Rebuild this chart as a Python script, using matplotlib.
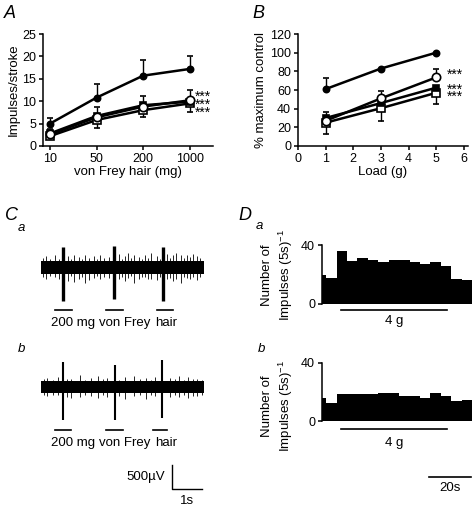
"""Four-panel figure: von Frey responses (A), load responses (B), raw traces (C), PSTHs (D)."""
import numpy as np
import matplotlib
matplotlib.use("Agg")
import matplotlib.pyplot as plt

plt.rcParams["font.family"] = ["Liberation Sans", "DejaVu Sans"]
plt.rcParams["mathtext.fontset"] = "custom"
plt.rcParams["mathtext.rm"] = "Liberation Sans"

W, H = 472, 509

# ---- panel A: impulses per stroke vs von Frey hair
vf_labels = ["10", "50", "200", "1000"]
a_ctrl = [5.0, 10.8, 15.7, 17.2]
a_ctrl_up = [1.2, 3.0, 3.5, 3.0]
a_ocirc = [2.6, 6.4, 8.8, 10.2]
a_ocirc_up = [1.1, 2.3, 2.4, 2.3]
a_fsq = [2.8, 6.7, 9.1, 9.9]
a_osq = [2.2, 5.8, 8.0, 9.5]
a_osq_dn = [0.7, 1.8, 1.6, 1.8]
a_star_y = 9.2          # centre of the three-row "***" block

# ---- panel B: % maximum control vs load
load_g = [1, 3, 5]
b_ctrl = [61, 83, 100]
b_ctrl_up = [12, 0, 0]
b_ocirc = [27, 51, 73.5]
b_ocirc_up = [9, 7.5, 8.5]
b_fsq = [30, 46, 62.5]
b_osq = [25, 40.5, 57]
b_osq_dn = [12.5, 14, 12]
b_star_y = 64.3         # centre of the star block (one gap row)

# ---- panel C: extracellular traces (uV, s)
ca_band = (-140, 125)
ca_spike_t = [0.73, 2.43, 4.07]
ca_spike_hi = [420, 440, 425]
ca_spike_lo = [-710, -670, -710]
ca_small_t = [0.05, 0.15, 0.3, 0.45, 0.6, 0.9, 1.0, 1.1, 1.25, 1.35, 1.45, 1.6, 1.75, 1.85,
              1.95, 2.1, 2.25, 2.6, 2.7, 2.8, 2.9, 3.0, 3.1, 3.25, 3.35, 3.45, 3.55, 3.65,
              3.85, 3.95, 4.2, 4.3, 4.4, 4.5, 4.65, 4.75, 4.85, 4.95, 5.05, 5.2, 5.3]
ca_small_hi = [180, 230, 170, 250, 160, 220, 170, 260, 210, 175, 240, 190, 230, 165,
               250, 180, 200, 270, 170, 220, 300, 180, 240, 210, 170, 260, 185, 290,
               230, 170, 280, 190, 250, 300, 260, 180, 240, 200, 270, 220, 180]
ca_small_lo = [-200, -260, -180, -200, -240, -300, -190, -320, -250, -200, -340, -280, -220, -190,
               -260, -210, -230, -240, -200, -300, -220, -190, -330, -260, -200, -210, -240, -250,
               -280, -200, -260, -220, -300, -240, -330, -200, -220, -260, -210, -280, -200]
cb_band = (-115, 115)
cb_spike_t = [0.73, 2.47, 4.03]
cb_spike_hi = [520, 450, 555]
cb_spike_lo = [-695, -695, -650]
cb_small_t = [0.1, 0.2, 0.4, 0.55, 0.85, 1.0, 1.3, 1.45, 1.65, 1.9, 2.05, 2.2, 2.6, 2.8, 3.1,
              3.3, 3.5, 3.65, 3.8, 4.3, 4.45, 4.6, 4.75, 4.9, 5.05, 5.2, 5.35]
cb_small_hi = [160, 180, 150, 200, 160, 170, 240, 150, 190, 220, 160, 180, 150, 200, 230,
               160, 190, 150, 210, 180, 160, 220, 150, 200, 170, 160, 150]
cb_small_lo = [-170, -190, -160, -170, -200, -230, -200, -160, -180, -220, -170, -200, -190, -260, -190,
               -170, -240, -160, -180, -210, -170, -200, -160, -230, -180, -190, -160]
stim_a = [(0.47, 1.03), (2.17, 2.73), (3.87, 4.40)]
stim_b = [(0.47, 1.00), (2.17, 2.73), (3.73, 4.20)]

# ---- panel D: impulses per 5 s bin
bin_edges = [0, 2, 7, 12, 17, 22, 27, 32, 37, 42, 47, 52, 57, 62, 67, 72]
da_counts = [20, 17.8, 36, 29.7, 31.5, 30.4, 28.5, 30.4, 30.4, 28.8, 27.4, 28.5, 26.3, 17.1, 16.2]
db_counts = [15.8, 12.3, 18.2, 18.2, 18.2, 18.2, 19.3, 19.3, 17, 17, 15.9, 19.3, 17, 13.6, 14.7]
load_on = (9, 60)

fig = plt.figure(figsize=(W / 100, H / 100), dpi=100)


def px_axes(x0, y0, x1, y1):
    return fig.add_axes([x0 / W, 1 - y1 / H, (x1 - x0) / W, (y1 - y0) / H])


def ftext(x, y, s, **kw):
    fig.text(x / W, 1 - y / H, s, **kw)


def style(ax):
    for s in ("top", "right"):
        ax.spines[s].set_visible(False)
    for s in ("left", "bottom"):
        ax.spines[s].set_linewidth(1.1)
    ax.tick_params(direction="out", length=3, width=1.1, pad=2, labelsize=9)


def series(ax, x, y, err, mk, fc, ms):
    ax.errorbar(x, y, yerr=err, color="k", lw=1.8, marker=mk, mfc=fc, mec="k",
                ms=ms, mew=1.2, capsize=2.5, elinewidth=1, capthick=1)


# A
ax = px_axes(43, 34, 213, 146)
style(ax)
xa = np.arange(len(vf_labels))
series(ax, xa, a_osq, [a_osq_dn, [0] * 4], "s", "white", 5.5)
series(ax, xa, a_fsq, None, "s", "black", 5)
series(ax, xa, a_ocirc, [[0] * 4, a_ocirc_up], "o", "white", 6)
series(ax, xa, a_ctrl, [[0] * 4, a_ctrl_up], "o", "black", 4.5)
ax.text(3.12, a_star_y, "***\n***\n***", fontsize=10, va="center", ha="left",
        linespacing=0.43)
ax.set_xlim(-0.15, 3.5)
ax.set_ylim(0, 25)
ax.set_yticks([0, 5, 10, 15, 20, 25])
ax.set_xticks(xa)
ax.set_xticklabels(vf_labels)
ax.set_xlabel("von Frey hair (mg)", fontsize=9.5, labelpad=1)
ax.set_ylabel("Impulses/stroke", fontsize=9.5, labelpad=2)

# B
ax = px_axes(298, 34, 468, 146)
style(ax)
series(ax, load_g, b_osq, [b_osq_dn, [0] * 3], "s", "white", 5.5)
series(ax, load_g, b_fsq, None, "s", "black", 5)
series(ax, load_g, b_ocirc, [[0] * 3, b_ocirc_up], "o", "white", 6)
series(ax, load_g, b_ctrl, [[0] * 3, b_ctrl_up], "o", "black", 4.5)
ax.text(5.4, b_star_y, "***\n\n***\n***", fontsize=10, va="center", ha="left",
        linespacing=0.38)
ax.set_xlim(0, 6.15)
ax.set_ylim(0, 120)
ax.set_xticks(range(7))
ax.set_yticks(range(0, 121, 20))
ax.set_xlabel("Load (g)", fontsize=9.5, labelpad=1)
ax.set_ylabel("% maximum control", fontsize=9.5, labelpad=2)

# C traces
UV_PX = 500 / 24
T_END = 163 / 30


def trace(yc, band, sp_t, sp_hi, sp_lo, sm_t, sm_hi, sm_lo, stim, sp_lw):
    top, bot = 750, -1500
    ax = px_axes(41, yc - top / UV_PX, 204, yc - bot / UV_PX)
    ax.axis("off")
    ax.set_xlim(0, T_END)
    ax.set_ylim(bot, top)
    ax.fill_between([0, T_END], band[0], band[1], color="k", lw=0)
    ax.vlines(sm_t, sm_lo, sm_hi, color="k", lw=0.6)
    ax.vlines(sp_t, sp_lo, sp_hi, color="k", lw=sp_lw)
    for t0, t1 in stim:
        ax.plot([t0, t1], [-896, -896], color="k", lw=1.2)
    for x, s in [(0.33, "200 mg"), (1.93, "von Frey"), (3.8, "hair")]:
        ax.text(x, -1167, s, fontsize=9.5, ha="left", va="center")
    return ax


trace(267, ca_band, ca_spike_t, ca_spike_hi, ca_spike_lo,
      ca_small_t, ca_small_hi, ca_small_lo, stim_a, 2.4)
axb = trace(387, cb_band, cb_spike_t, cb_spike_hi, cb_spike_lo,
            cb_small_t, cb_small_hi, cb_small_lo, stim_b, 1.5)
# scale bars
axb.plot([4.37, 4.37, 5.37], [-1625, -2125, -2125], color="k", lw=1, clip_on=False)
axb.text(4.13, -1875, "500µV", fontsize=9.5, ha="right", va="center")
axb.text(4.87, -2375, "1s", fontsize=9.5, ha="center", va="center")

# D histograms
def psth(y40, y0, counts, lab_y):
    ax = px_axes(322, y40, 472, y0)
    ax.bar(bin_edges[:-1], counts, width=np.diff(bin_edges), align="edge",
           color="k", lw=0)
    ax.set_xlim(0, 72)
    ax.set_ylim(0, 40)
    for s in ("top", "right", "bottom"):
        ax.spines[s].set_visible(False)
    ax.spines["left"].set_linewidth(1.1)
    ax.set_xticks([])
    ax.set_yticks([0, 40])
    ax.tick_params(direction="out", length=3, width=1.1, pad=2, labelsize=9)
    ftext(278, lab_y, "Number of\nImpulses (5s)$^{-1}$", fontsize=9.5, rotation=90,
          ha="center", va="center", multialignment="center", linespacing=1.3)
    return ax


ax = psth(245.5, 304, da_counts, 275)
ax.plot(load_on, [-4.1, -4.1], color="k", lw=1.2, clip_on=False)
ax.text(np.mean(load_on), -11.6, "4 g", fontsize=9.5, ha="center", va="center")
ax = psth(362.7, 421, db_counts, 406)
ax.plot(load_on, [-5.5, -5.5], color="k", lw=1.2, clip_on=False)
ax.text(np.mean(load_on), -15, "4 g", fontsize=9.5, ha="center", va="center")
ax.plot([51.5, 71.5], [-38.4, -38.4], color="k", lw=1.2, clip_on=False)
ax.text(61.5, -45.9, "20s", fontsize=9.5, ha="center", va="center")

# panel letters
for x, y, s in [(10, 14, "A"), (258, 14, "B"), (11, 216, "C"), (245, 216, "D")]:
    ftext(x, y, s, fontsize=13, style="italic", ha="center", va="center")
for x, y, s in [(21, 228, "a"), (21, 349, "b"), (259, 226, "a"), (261, 349, "b")]:
    ftext(x, y, s, fontsize=9.5, style="italic", ha="center", va="center")

fig.savefig("out.png", dpi=100)
